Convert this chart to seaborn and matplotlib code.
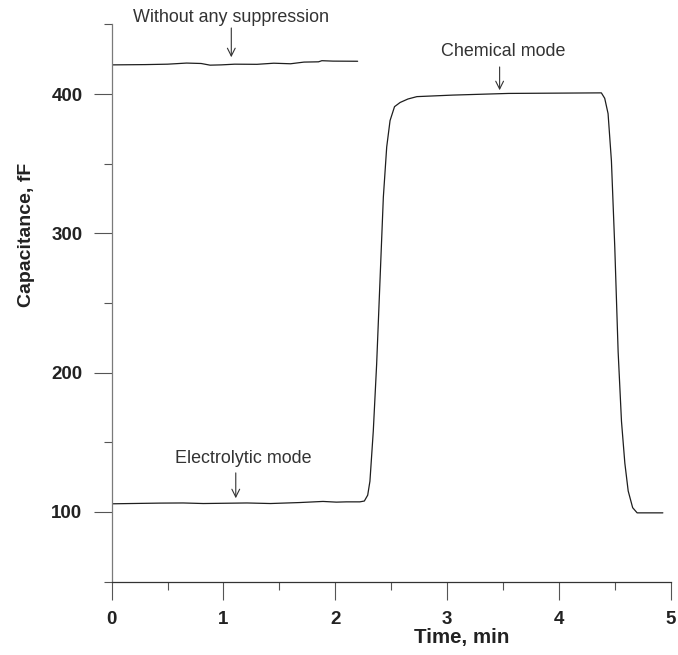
import matplotlib
matplotlib.use("Agg")
import matplotlib.pyplot as plt
import seaborn as sns
import pandas as pd
from matplotlib.ticker import MultipleLocator

# ------------------------------------------------
# DATA
# ------------------------------------------------
# trace recorded without any suppression (top, short)
free_time = [0.00, 0.30, 0.50, 0.67, 0.80, 0.88, 0.98, 1.10, 1.30, 1.45,
             1.60, 1.72, 1.85, 1.88, 1.98, 2.20]
free_cap = [421.0, 421.2, 421.5, 422.3, 422.0, 420.8, 421.0, 421.5, 421.4, 422.2,
            421.8, 423.0, 423.2, 424.0, 423.7, 423.6]

# electrolytic mode -> chemical mode -> back
mode_time = [0.00, 0.43, 0.64, 0.82, 1.21, 1.42, 1.68, 1.89, 2.01, 2.10, 2.22,
             2.26, 2.29, 2.31, 2.34, 2.37, 2.40, 2.43, 2.46, 2.49, 2.53, 2.58,
             2.65, 2.73, 3.05, 3.55, 4.38,
             4.41, 4.44, 4.47, 4.50, 4.53, 4.56, 4.59, 4.62, 4.66, 4.70, 4.93]
mode_cap = [105.8, 106.3, 106.4, 106.0, 106.4, 106.0, 106.7, 107.5, 107.0, 107.2, 107.2,
            107.8, 112.0, 122.0, 158.0, 206.0, 266.0, 326.0, 362.0, 381.0, 391.0, 394.0,
            396.5, 398.2, 399.3, 400.5, 400.9,
            397.0, 386.0, 352.0, 290.0, 215.0, 165.0, 135.0, 115.0, 103.0, 99.3, 99.3]

free_df = pd.DataFrame({"time": free_time, "cap": free_cap})
mode_df = pd.DataFrame({"time": mode_time, "cap": mode_cap})

# annotations: (text, text x, text y, arrow x, arrow tail y, arrow tip y)
notes = [
    ("Without any suppression", 1.07, 455.0, 1.07, 447.5, 426.5),
    ("Chemical mode", 3.50, 430.5, 3.47, 419.5, 402.8),
    ("Electrolytic mode", 1.175, 138.0, 1.11, 128.0, 109.8),
]

# ------------------------------------------------
# PLOT
# ------------------------------------------------
sns.set_style("ticks")
plt.rcParams["font.family"] = ["Liberation Sans", "DejaVu Sans"]

fig = plt.figure(figsize=(6.78, 6.55), dpi=100)
ax = fig.add_axes([0.1647, 0.1122, 0.8245, 0.8504])

line_color = "#1e1e1e"
sns.lineplot(data=free_df, x="time", y="cap", ax=ax, color=line_color,
             linewidth=0.9, sort=False)
sns.lineplot(data=mode_df, x="time", y="cap", ax=ax, color=line_color,
             linewidth=0.9, sort=False)

ax.set_xlim(0, 5)
ax.set_ylim(50, 450)
ax.xaxis.set_major_locator(MultipleLocator(1))
ax.xaxis.set_minor_locator(MultipleLocator(0.5))
ax.set_yticks([100, 200, 300, 400])
ax.yaxis.set_minor_locator(MultipleLocator(100, offset=50))

sns.despine(ax=ax)
ax.spines["left"].set_color("#7a7a7a")
ax.spines["bottom"].set_color("#333333")
ax.spines["left"].set_linewidth(0.9)
ax.spines["bottom"].set_linewidth(0.9)

ax.tick_params(axis="x", which="major", length=13, width=0.8, color="#555555",
               labelsize=13.5, pad=8)
ax.tick_params(axis="x", which="minor", length=6, width=0.8, color="#555555")
ax.tick_params(axis="y", which="major", length=13, width=0.8, color="#555555",
               labelsize=13.5, pad=8)
ax.tick_params(axis="y", which="minor", length=6, width=0.8, color="#555555")
for lbl in ax.get_xticklabels() + ax.get_yticklabels():
    lbl.set_fontweight("bold")
    lbl.set_color("#222222")

ax.set_xlabel("Time, min", fontsize=14.8, fontweight="bold", color="#222222")
ax.xaxis.label.set_va("top")
ax.xaxis.set_label_coords(0.627, -0.083)
ax.set_ylabel("Capacitance, fF", fontsize=14, fontweight="bold", color="#222222")
ax.yaxis.label.set_va("center")
ax.yaxis.set_label_coords(-0.153, 0.622)

for text, tx, ty, axx, y_tail, y_tip in notes:
    ax.text(tx, ty, text, ha="center", va="center", fontsize=12.9,
            color="#333333", clip_on=False)
    ax.annotate("", xy=(axx, y_tip), xytext=(axx, y_tail),
                arrowprops=dict(arrowstyle="->", lw=0.8, color="#333333",
                                mutation_scale=14, shrinkA=0, shrinkB=0),
                annotation_clip=False)

plt.savefig("out.png", dpi=100)
